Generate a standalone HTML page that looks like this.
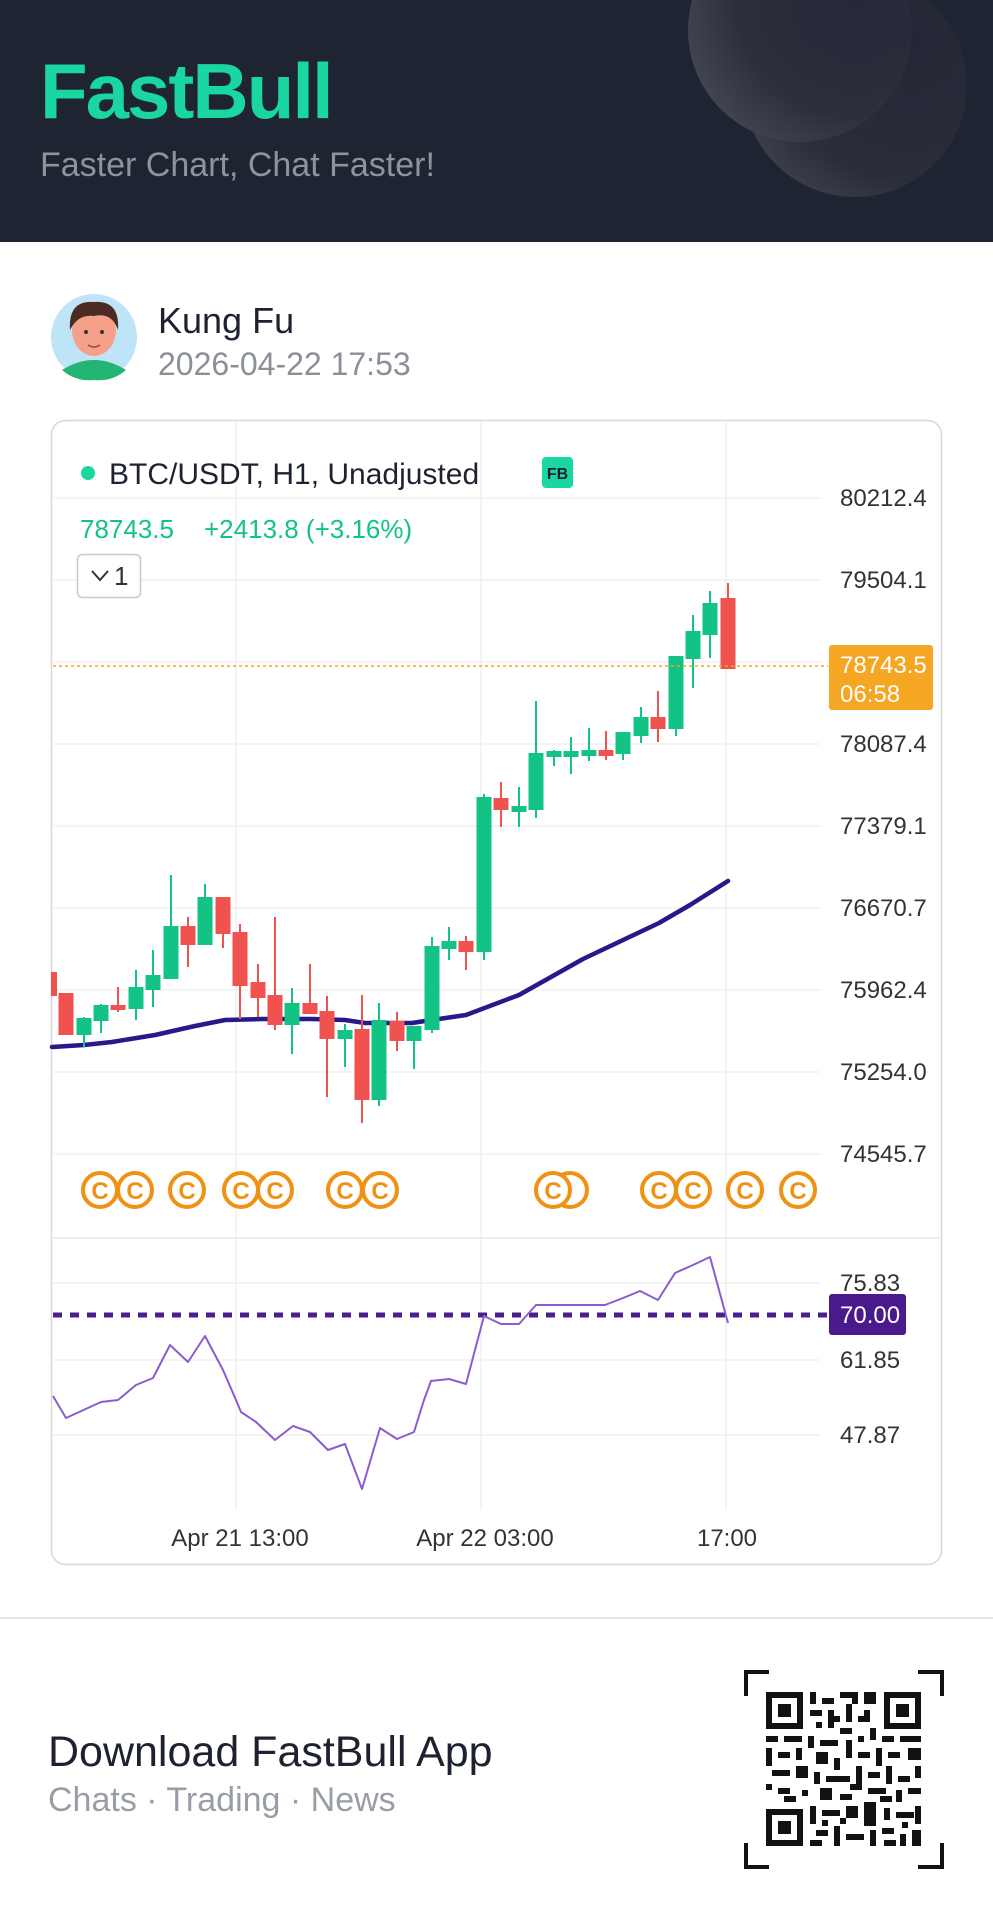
<!DOCTYPE html>
<html><head><meta charset="utf-8"><style>
html,body{margin:0;padding:0;width:993px;height:1920px;background:#fff;overflow:hidden}
svg{display:block}
text{font-family:"Liberation Sans",sans-serif}
</style></head><body>
<svg width="993" height="1920" viewBox="0 0 993 1920" xmlns="http://www.w3.org/2000/svg">
<defs>
<radialGradient id="g1" cx="0.75" cy="0.35" r="0.9"><stop offset="0" stop-color="#242837"/><stop offset="0.6" stop-color="#2c303d"/><stop offset="1" stop-color="#4a4e59"/></radialGradient>
<radialGradient id="g2" cx="0.75" cy="0.3" r="0.9"><stop offset="0" stop-color="#232735"/><stop offset="0.7" stop-color="#2a2e3b"/><stop offset="1" stop-color="#41454f"/></radialGradient>
</defs>
<rect x="0" y="0" width="993" height="242" fill="#1f2433"/>
<circle cx="855" cy="85" r="112" fill="url(#g2)"/>
<circle cx="800" cy="30" r="112" fill="url(#g1)"/>
<text x="40" y="118" font-size="78" font-weight="bold" fill="#1ad6a0" letter-spacing="-2">FastBull</text>
<text x="40" y="176" font-size="34" fill="#8e939c">Faster Chart, Chat Faster!</text>

<circle cx="94" cy="337" r="43" fill="#bfe4f8"/>
<path d="M62 370 Q94 350 126 370 Q112 382 94 380 Q76 382 62 370Z" fill="#22b573"/>
<ellipse cx="94" cy="330" rx="22" ry="26" fill="#f4a08a"/>
<path d="M70 330 Q68 300 94 302 Q120 300 118 330 Q112 312 94 316 Q78 314 70 330Z" fill="#4a2a22"/>
<circle cx="86" cy="332" r="2" fill="#333"/><circle cx="102" cy="332" r="2" fill="#333"/>
<path d="M88 345 Q94 349 100 345" stroke="#a44" stroke-width="1.5" fill="none"/>
<text x="158" y="333" font-size="36" fill="#1e2230">Kung Fu</text>
<text x="158" y="375" font-size="32" fill="#8a8f98">2026-04-22 17:53</text>

<rect x="51.5" y="420.5" width="890" height="1144" rx="14" fill="#fff" stroke="#d8d8d8" stroke-width="1.5"/>
<g stroke="#f0f0f0" stroke-width="1.5">
<line x1="236" y1="422" x2="236" y2="1510"/><line x1="481" y1="422" x2="481" y2="1510"/><line x1="726" y1="422" x2="726" y2="1510"/>
<line x1="53" y1="498" x2="820" y2="498"/><line x1="53" y1="580" x2="820" y2="580"/><line x1="53" y1="662" x2="820" y2="662"/>
<line x1="53" y1="744" x2="820" y2="744"/><line x1="53" y1="826" x2="820" y2="826"/><line x1="53" y1="908" x2="820" y2="908"/>
<line x1="53" y1="990" x2="820" y2="990"/><line x1="53" y1="1072" x2="820" y2="1072"/><line x1="53" y1="1154" x2="820" y2="1154"/>
<line x1="53" y1="1283" x2="820" y2="1283"/><line x1="53" y1="1360" x2="820" y2="1360"/><line x1="53" y1="1435" x2="820" y2="1435"/>
</g>
<line x1="53" y1="1238" x2="940" y2="1238" stroke="#e8e8e8" stroke-width="1.5"/>

<circle cx="88" cy="473" r="7" fill="#1ad6a0"/>
<text x="109" y="484" font-size="30" fill="#1e2230">BTC/USDT, H1, Unadjusted</text>
<rect x="542" y="457" width="31" height="31" rx="4" fill="#1ad6a0"/>
<text x="557.5" y="479" font-size="16" font-weight="bold" fill="#1e2230" text-anchor="middle">FB</text>
<text x="80" y="538" font-size="26" fill="#13c386">78743.5</text>
<text x="204" y="538" font-size="26" fill="#13c386">+2413.8 (+3.16%)</text>
<rect x="77.5" y="554.5" width="63" height="43" rx="5" fill="#fff" stroke="#c8c8c8" stroke-width="1.5"/>
<path d="M92 571 L100 580 L108 571" stroke="#333" stroke-width="2" fill="none"/>
<text x="114" y="585" font-size="26" fill="#333">1</text>

<g font-size="24" fill="#333">
<text x="840" y="506">80212.4</text><text x="840" y="588">79504.1</text>
<text x="840" y="752">78087.4</text><text x="840" y="834">77379.1</text><text x="840" y="916">76670.7</text>
<text x="840" y="998">75962.4</text><text x="840" y="1080">75254.0</text><text x="840" y="1162">74545.7</text>
<text x="840" y="1291">75.83</text><text x="840" y="1368">61.85</text><text x="840" y="1443">47.87</text>
</g>

<path d="M52 1047 L84 1045 L112 1042 L155 1035 L195 1026 L225 1020 L262 1019 L312 1019 L345 1020 L365 1023 L412 1023 L425 1021 L466 1015 L519 995 L583 959 L659 923 L690 905 L728 881" stroke="#261a8a" stroke-width="4.5" fill="none" stroke-linejoin="round" stroke-linecap="round"/>

<g stroke-width="2">
<g fill="#f0524f" stroke="#f0524f">
<line x1="54" y1="973" x2="54" y2="995"/><rect x="52" y="973" width="4" height="22"/>
<line x1="66" y1="994" x2="66" y2="1034"/><rect x="59.5" y="994" width="13" height="40"/>
<line x1="118" y1="987" x2="118" y2="1012"/><rect x="111.5" y="1006" width="13" height="3"/>
<line x1="188" y1="917" x2="188" y2="967"/><rect x="181.5" y="927" width="13" height="17"/>
<line x1="223" y1="898" x2="223" y2="948"/><rect x="216.5" y="898" width="13" height="35"/>
<line x1="240" y1="924" x2="240" y2="1019"/><rect x="233.5" y="933" width="13" height="52"/>
<line x1="258" y1="964" x2="258" y2="1017"/><rect x="251.5" y="983" width="13" height="14"/>
<line x1="275" y1="917" x2="275" y2="1030"/><rect x="268.5" y="996" width="13" height="28"/>
<line x1="310" y1="964" x2="310" y2="1014"/><rect x="303.5" y="1004" width="13" height="9"/>
<line x1="327" y1="996" x2="327" y2="1097"/><rect x="320.5" y="1012" width="13" height="26"/>
<line x1="362" y1="995" x2="362" y2="1123"/><rect x="355.5" y="1030" width="13" height="69"/>
<line x1="397" y1="1012" x2="397" y2="1051"/><rect x="390.5" y="1022" width="13" height="18"/>
<line x1="466" y1="936" x2="466" y2="970"/><rect x="459.5" y="942" width="13" height="9"/>
<line x1="501" y1="782" x2="501" y2="827"/><rect x="494.5" y="799" width="13" height="10"/>
<line x1="606" y1="731" x2="606" y2="760"/><rect x="599.5" y="751" width="13" height="4"/>
<line x1="658" y1="691" x2="658" y2="742"/><rect x="651.5" y="718" width="13" height="10"/>
<line x1="728" y1="583" x2="728" y2="668"/><rect x="721.5" y="599" width="13" height="69"/>
</g>
<g fill="#13c386" stroke="#13c386">
<line x1="84" y1="1017" x2="84" y2="1047"/><rect x="77.5" y="1019" width="13" height="15"/>
<line x1="101" y1="1004" x2="101" y2="1033"/><rect x="94.5" y="1006" width="13" height="14"/>
<line x1="136" y1="970" x2="136" y2="1020"/><rect x="129.5" y="988" width="13" height="20"/>
<line x1="153" y1="950" x2="153" y2="1007"/><rect x="146.5" y="976" width="13" height="13"/>
<line x1="171" y1="875" x2="171" y2="979"/><rect x="164.5" y="927" width="13" height="51"/>
<line x1="205" y1="884" x2="205" y2="945"/><rect x="198.5" y="898" width="13" height="46"/>
<line x1="292" y1="988" x2="292" y2="1054"/><rect x="285.5" y="1004" width="13" height="20"/>
<line x1="345" y1="1024" x2="345" y2="1067"/><rect x="338.5" y="1031" width="13" height="7"/>
<line x1="379" y1="1003" x2="379" y2="1106"/><rect x="372.5" y="1021" width="13" height="78"/>
<line x1="414" y1="1027" x2="414" y2="1069"/><rect x="407.5" y="1027" width="13" height="13"/>
<line x1="432" y1="937" x2="432" y2="1033"/><rect x="425.5" y="947" width="13" height="82"/>
<line x1="449" y1="927" x2="449" y2="960"/><rect x="442.5" y="942" width="13" height="6"/>
<line x1="484" y1="794" x2="484" y2="960"/><rect x="477.5" y="798" width="13" height="153"/>
<line x1="519" y1="787" x2="519" y2="827"/><rect x="512.5" y="807" width="13" height="4"/>
<line x1="536" y1="701" x2="536" y2="818"/><rect x="529.5" y="754" width="13" height="55"/>
<line x1="554" y1="750" x2="554" y2="766"/><rect x="547.5" y="752" width="13" height="4"/>
<line x1="571" y1="737" x2="571" y2="774"/><rect x="564.5" y="752" width="13" height="4"/>
<line x1="589" y1="728" x2="589" y2="761"/><rect x="582.5" y="751" width="13" height="4"/>
<line x1="623" y1="732" x2="623" y2="760"/><rect x="616.5" y="733" width="13" height="20"/>
<line x1="641" y1="707" x2="641" y2="743"/><rect x="634.5" y="718" width="13" height="17"/>
<line x1="676" y1="657" x2="676" y2="736"/><rect x="669.5" y="657" width="13" height="71"/>
<line x1="693" y1="615" x2="693" y2="688"/><rect x="686.5" y="632" width="13" height="26"/>
<line x1="710" y1="591" x2="710" y2="658"/><rect x="703.5" y="604" width="13" height="30"/>
</g>
</g>

<line x1="53" y1="666" x2="828" y2="666" stroke="#f0a52a" stroke-width="1.5" stroke-dasharray="3,3"/>
<rect x="829" y="645" width="104" height="65" rx="3" fill="#f5a623"/>
<text x="840" y="673" font-size="24" fill="#fff">78743.5</text>
<text x="840" y="702" font-size="24" fill="#fff">06:58</text>

<g fill="#fff" stroke="#ef9113" stroke-width="4">
<circle cx="100" cy="1190" r="17"/><circle cx="135" cy="1190" r="17"/><circle cx="187" cy="1190" r="17"/>
<circle cx="241" cy="1190" r="17"/><circle cx="275" cy="1190" r="17"/><circle cx="345" cy="1190" r="17"/>
<circle cx="380" cy="1190" r="17"/><circle cx="570" cy="1190" r="17"/><circle cx="553" cy="1190" r="17"/>
<circle cx="659" cy="1190" r="17"/><circle cx="693" cy="1190" r="17"/><circle cx="745" cy="1190" r="17"/>
<circle cx="798" cy="1190" r="17"/>
</g>
<g font-size="24" font-weight="bold" fill="#ef9113" text-anchor="middle">
<text x="100" y="1199">C</text><text x="135" y="1199">C</text><text x="187" y="1199">C</text><text x="241" y="1199">C</text>
<text x="275" y="1199">C</text><text x="345" y="1199">C</text><text x="380" y="1199">C</text><text x="553" y="1199">C</text>
<text x="659" y="1199">C</text><text x="693" y="1199">C</text><text x="745" y="1199">C</text><text x="798" y="1199">C</text>
</g>

<line x1="53" y1="1315" x2="828" y2="1315" stroke="#4b1d8f" stroke-width="5" stroke-dasharray="9,8"/>
<path d="M53 1396 L66 1418 L101 1402 L118 1400 L136 1385 L153 1378 L170 1345 L188 1362 L205 1336 L223 1370 L236 1400 L241 1412 L256 1422 L275 1440 L293 1426 L310 1432 L328 1450 L345 1444 L362 1489 L380 1428 L397 1439 L414 1432 L424 1400 L431 1381 L449 1379 L466 1384 L484 1316 L501 1324 L519 1324 L536 1305 L605 1305 L623 1298 L640 1291 L658 1300 L675 1273 L693 1265 L710 1257 L728 1323" stroke="#8a5cd0" stroke-width="2" fill="none" stroke-linejoin="round"/>
<rect x="829" y="1294" width="77" height="41" rx="3" fill="#4a1a8c"/>
<text x="840" y="1323" font-size="24" fill="#fff">70.00</text>

<g font-size="24" fill="#333" text-anchor="middle">
<text x="240" y="1546">Apr 21 13:00</text><text x="485" y="1546">Apr 22 03:00</text><text x="727" y="1546">17:00</text>
</g>

<line x1="0" y1="1618" x2="993" y2="1618" stroke="#e4e4e4" stroke-width="2"/>
<text x="48" y="1766" font-size="43" fill="#1e2230">Download FastBull App</text>
<text x="48" y="1811" font-size="34" fill="#999ea6">Chats · Trading · News</text>

<g stroke="#111" stroke-width="4" fill="none">
<path d="M746 1696 V1672 H769"/><path d="M918 1672 H942 V1696"/><path d="M746 1843 V1867 H769"/><path d="M942 1843 V1867 H918"/>
</g>
<g fill="#111">
<rect x="766" y="1692" width="37" height="37"/><rect x="772" y="1698" width="25" height="25" fill="#fff"/><rect x="778" y="1704" width="13" height="13"/>
<rect x="884" y="1692" width="37" height="37"/><rect x="890" y="1698" width="25" height="25" fill="#fff"/><rect x="896" y="1704" width="13" height="13"/>
<rect x="766" y="1809" width="37" height="37"/><rect x="772" y="1815" width="25" height="25" fill="#fff"/><rect x="778" y="1821" width="13" height="13"/>
<rect x="810" y="1692" width="6" height="12"/><rect x="822" y="1698" width="12" height="6"/><rect x="840" y="1692" width="18" height="6"/><rect x="864" y="1692" width="12" height="12"/>
<rect x="810" y="1710" width="12" height="6"/><rect x="828" y="1710" width="6" height="18"/><rect x="846" y="1704" width="6" height="18"/><rect x="858" y="1716" width="12" height="6"/>
<rect x="816" y="1722" width="6" height="6"/><rect x="840" y="1728" width="12" height="6"/><rect x="870" y="1728" width="6" height="12"/>
<rect x="852" y="1698" width="6" height="6"/><rect x="834" y="1716" width="6" height="6"/><rect x="864" y="1710" width="6" height="6"/>
<rect x="766" y="1736" width="12" height="6"/><rect x="784" y="1736" width="18" height="6"/><rect x="808" y="1736" width="6" height="12"/><rect x="820" y="1740" width="18" height="6"/>
<rect x="846" y="1740" width="6" height="18"/><rect x="858" y="1736" width="6" height="6"/><rect x="882" y="1736" width="12" height="6"/><rect x="900" y="1736" width="21" height="6"/>
<rect x="766" y="1748" width="6" height="18"/><rect x="778" y="1752" width="12" height="6"/><rect x="796" y="1748" width="6" height="12"/><rect x="816" y="1752" width="12" height="12"/>
<rect x="834" y="1758" width="6" height="12"/><rect x="858" y="1752" width="12" height="6"/><rect x="876" y="1748" width="6" height="18"/><rect x="888" y="1752" width="12" height="6"/><rect x="908" y="1748" width="13" height="12"/>
<rect x="772" y="1770" width="18" height="6"/><rect x="796" y="1766" width="12" height="12"/><rect x="814" y="1772" width="6" height="12"/><rect x="826" y="1776" width="24" height="6"/>
<rect x="856" y="1766" width="6" height="24"/><rect x="868" y="1772" width="12" height="6"/><rect x="886" y="1766" width="6" height="18"/><rect x="898" y="1776" width="12" height="6"/><rect x="915" y="1766" width="6" height="12"/>
<rect x="766" y="1784" width="6" height="6"/><rect x="778" y="1788" width="12" height="6"/><rect x="802" y="1790" width="6" height="6"/><rect x="820" y="1788" width="12" height="12"/>
<rect x="840" y="1794" width="12" height="6"/><rect x="868" y="1788" width="18" height="6"/><rect x="896" y="1790" width="6" height="12"/><rect x="908" y="1788" width="13" height="6"/>
<rect x="784" y="1796" width="12" height="6"/><rect x="850" y="1784" width="6" height="6"/><rect x="880" y="1796" width="12" height="6"/>
<rect x="810" y="1806" width="6" height="18"/><rect x="822" y="1810" width="18" height="6"/><rect x="846" y="1806" width="12" height="12"/><rect x="864" y="1802" width="12" height="24"/>
<rect x="884" y="1808" width="6" height="12"/><rect x="896" y="1812" width="18" height="6"/><rect x="915" y="1806" width="6" height="18"/>
<rect x="816" y="1830" width="12" height="6"/><rect x="834" y="1826" width="6" height="20"/><rect x="846" y="1834" width="18" height="6"/><rect x="870" y="1830" width="6" height="16"/>
<rect x="882" y="1828" width="12" height="6"/><rect x="900" y="1834" width="6" height="12"/><rect x="912" y="1830" width="9" height="16"/><rect x="810" y="1840" width="12" height="6"/><rect x="884" y="1840" width="12" height="6"/>
<rect x="840" y="1818" width="6" height="6"/><rect x="822" y="1820" width="6" height="6"/><rect x="902" y="1822" width="6" height="6"/>
</g>
</svg>
</body></html>
